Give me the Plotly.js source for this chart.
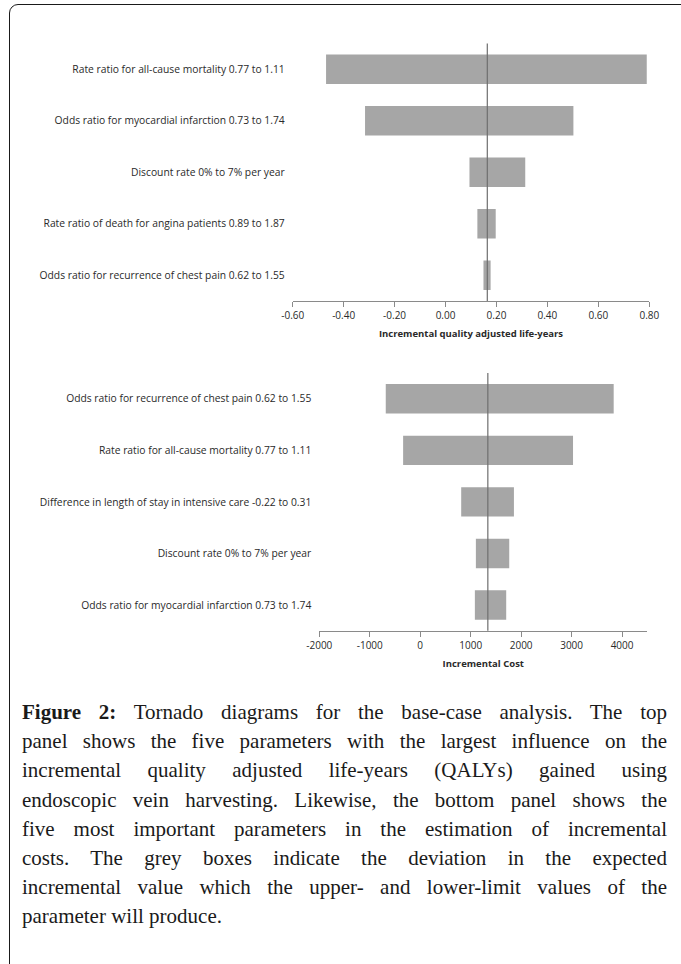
<!DOCTYPE html>
<html>
<head>
<meta charset="utf-8">
<script src="https://cdn.plot.ly/plotly-3.0.1.min.js"></script>
<style>
html,body{margin:0;padding:0;width:681px;height:964px;overflow:hidden;background:#fff;}
#frame{position:absolute;left:9px;top:4px;width:720px;height:1000px;border:1.5px solid #1a1a1a;border-radius:9px;box-sizing:border-box;}
#chart{position:absolute;left:0;top:0;width:681px;height:964px;}
#caption{position:absolute;left:22px;top:698px;width:645px;font-family:"Liberation Serif","Times New Roman",serif;font-size:21px;line-height:29.2px;color:#1a1a1a;}
#caption div{text-align:justify;text-align-last:justify;white-space:nowrap;}
#caption div.last{text-align-last:left;}
</style>
</head>
<body>
<div id="frame"></div>
<div id="chart"></div>
<div id="caption">
<div><b>Figure 2:</b> Tornado diagrams for the base-case analysis. The top</div>
<div>panel shows the five parameters with the largest influence on the</div>
<div>incremental quality adjusted life-years (QALYs) gained using</div>
<div>endoscopic vein harvesting. Likewise, the bottom panel shows the</div>
<div>five most important parameters in the estimation of incremental</div>
<div>costs. The grey boxes indicate the deviation in the expected</div>
<div>incremental value which the upper- and lower-limit values of the</div>
<div class="last">parameter will produce.</div>
</div>
<script>
// Top panel: incremental QALYs
const qalyLabels = [
  "Rate ratio for all-cause mortality 0.77 to 1.11",
  "Odds ratio for myocardial infarction 0.73 to 1.74",
  "Discount rate 0% to 7% per year",
  "Rate ratio of death for angina patients 0.89 to 1.87",
  "Odds ratio for recurrence of chest pain 0.62 to 1.55"
];
const qalyLow  = [-0.469, -0.316, 0.094, 0.125, 0.149];
const qalyHigh = [0.790, 0.502, 0.313, 0.197, 0.177];
const qalyBase = 0.164;
const qalyTicks = [-0.6, -0.4, -0.2, 0.0, 0.2, 0.4, 0.6, 0.8];
const qalyTickText = ["-0.60", "-0.40", "-0.20", "0.00", "0.20", "0.40", "0.60", "0.80"];
const qalyTitle = "Incremental quality adjusted life-years";

// Bottom panel: incremental cost
const costLabels = [
  "Odds ratio for recurrence of chest pain 0.62 to 1.55",
  "Rate ratio for all-cause mortality 0.77 to 1.11",
  "Difference in length of stay in intensive care -0.22 to 0.31",
  "Discount rate 0% to 7% per year",
  "Odds ratio for myocardial infarction 0.73 to 1.74"
];
const costLow  = [-683, -339, 812, 1103, 1083];
const costHigh = [3834, 3028, 1857, 1764, 1704];
const costBase = 1340;
const costTicks = [-2000, -1000, 0, 1000, 2000, 3000, 4000];
const costTickText = ["-2000", "-1000", "0", "1000", "2000", "3000", "4000"];
const costTitle = "Incremental Cost";

const W = 681, H = 964;
const px = v => v / W;
const py = v => 1 - v / H;

const barColor = "#a6a6a6";
const lblFont = {family: "Open Sans, sans-serif", size: 10.3, color: "#2a2a2a"};
const tickFont = {family: "Open Sans, sans-serif", size: 10, color: "#2a2a2a"};
const titleFont = {family: "Open Sans, sans-serif", size: 9.5, color: "#2a2a2a"};

const traces = [
  {
    type: "bar", orientation: "h",
    y: qalyLabels,
    x: qalyHigh.map((h, i) => h - qalyLow[i]),
    base: qalyLow,
    xaxis: "x", yaxis: "y",
    marker: {color: barColor, line: {width: 0}},
    hoverinfo: "skip"
  },
  {
    type: "bar", orientation: "h",
    y: costLabels,
    x: costHigh.map((h, i) => h - costLow[i]),
    base: costLow,
    xaxis: "x2", yaxis: "y2",
    marker: {color: barColor, line: {width: 0}},
    hoverinfo: "skip"
  }
];

const xCommon = {
  ticks: "outside", ticklen: 5, tickcolor: "#8a8a8a", tickwidth: 1,
  showline: true, linecolor: "#8a8a8a", linewidth: 1,
  showgrid: false, zeroline: false, tickfont: tickFont, fixedrange: true
};
const yCommon = {
  type: "category", showline: false, ticks: "", showgrid: false, zeroline: false,
  tickfont: lblFont, range: [4.5, -0.5], ticklabelstandoff: 7, fixedrange: true
};

const layout = {
  width: W, height: H,
  margin: {l: 0, r: 0, t: 0, b: 0},
  paper_bgcolor: "rgba(0,0,0,0)", plot_bgcolor: "rgba(0,0,0,0)",
  showlegend: false, bargap: 0.43,
  xaxis: Object.assign({}, xCommon, {
    domain: [px(292.7), px(649.3)], range: [-0.6, 0.8],
    tickvals: qalyTicks, ticktext: qalyTickText, anchor: "y",
    title: {text: "<b>" + qalyTitle + "</b>", font: titleFont, standoff: 9}
  }),
  yaxis: Object.assign({}, yCommon, {
    domain: [py(301), py(43.5)], anchor: "x", categoryarray: qalyLabels
  }),
  xaxis2: Object.assign({}, xCommon, {
    domain: [px(319.3), px(647.3)], range: [-2000, 4500],
    tickvals: costTicks, ticktext: costTickText, anchor: "y2",
    title: {text: "<b>" + costTitle + "</b>", font: titleFont, standoff: 9}
  }),
  yaxis2: Object.assign({}, yCommon, {
    domain: [py(630.8), py(373)], anchor: "x2", categoryarray: costLabels
  }),
  shapes: [
    {type: "line", xref: "x", yref: "y domain", x0: qalyBase, x1: qalyBase, y0: 0, y1: 1,
     line: {color: "#6e6e6e", width: 1.2}},
    {type: "line", xref: "x2", yref: "y2 domain", x0: costBase, x1: costBase, y0: 0, y1: 1,
     line: {color: "#6e6e6e", width: 1.2}}
  ]
};

Plotly.newPlot("chart", traces, layout, {staticPlot: true, displayModeBar: false});
</script>
</body>
</html>
